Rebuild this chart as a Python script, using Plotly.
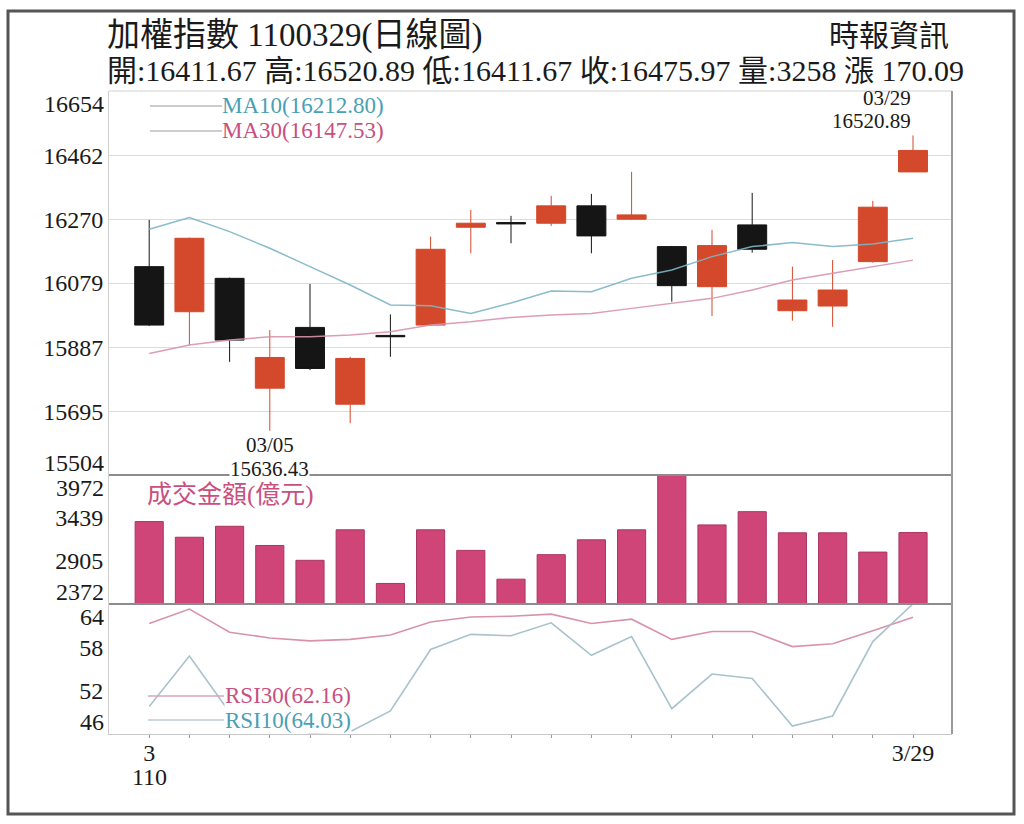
import plotly.graph_objects as go

# 加權指數 daily data, March 2021 (民國110年)
dates = ['03/02', '03/03', '03/04', '03/05', '03/08', '03/09', '03/10', '03/11', '03/12', '03/15',
         '03/16', '03/17', '03/18', '03/19', '03/22', '03/23', '03/24', '03/25', '03/26', '03/29']
open_ = [16128, 15993, 16093, 15764, 15946, 15716, 15922, 15953, 16246, 16260,
         16258, 16310, 16270, 16188, 16068, 16253, 15996, 16010, 16143, 16411.67]
high = [16268, 16215, 16095, 15938, 16076, 15858, 15985, 16218, 16298, 16280,
        16340, 16346, 16412, 16190, 16238, 16349, 16128, 16148, 16325, 16520.89]
low = [15950, 15893, 15843, 15636.43, 15818, 15659, 15858, 15950, 16168, 16198,
       16250, 16168, 16268, 16023, 15980, 16170, 15966, 15948, 16140, 16411.67]
close = [15953, 16213, 15908, 15856, 15823, 15853, 15918, 16180, 16258, 16256,
         16310, 16220, 16283, 16071, 16191, 16180, 16028, 16058, 16306, 16475.97]
ma10 = [16240, 16275, 16233, 16183, 16128, 16073, 16013, 16011, 15988, 16019,
        16055, 16053, 16093, 16118, 16158, 16188, 16200, 16188, 16196, 16212.80]
ma30 = [15868, 15893, 15908, 15918, 15918, 15923, 15933, 15953, 15963, 15976,
        15983, 15988, 16003, 16018, 16033, 16058, 16088, 16108, 16128, 16147.53]
volume = [3394, 3200, 3336, 3098, 2914, 3292, 2627, 3292, 3037, 2680,
          2984, 3168, 3292, 3972, 3353, 3517, 3255, 3255, 3016, 3258]
rsi30 = [61.3, 63.3, 60.1, 59.3, 58.9, 59.1, 59.7, 61.5, 62.2, 62.3,
         62.6, 61.3, 61.9, 59.1, 60.2, 60.2, 58.1, 58.5, 60.3, 62.16]
rsi10 = [49.8, 56.8, 49.0, 47.6, 46.1, 46.3, 49.2, 57.7, 59.8, 59.6,
         61.4, 56.9, 59.5, 49.5, 54.3, 53.7, 47.1, 48.5, 58.8, 64.03]

price_ticks = [16654, 16462, 16270, 16079, 15887, 15695, 15504]
vol_ticks = [3972, 3439, 2905, 2372]
rsi_ticks = [64, 58, 52, 46]
year_label = '110'

FONT = "'Liberation Serif', 'Noto Sans CJK TC', serif"
RED = '#d4492b'
BLACK = '#151515'
MA10_C = '#7db6c6'
MA30_C = '#d993b0'
TEAL_TXT = '#4a9fb5'
PINK_TXT = '#c94f7e'
VOL_C = '#cf4577'

# plot area in pixels
L, R, T, B = 109, 952, 91, 734
W, H = R - L, B - T


def px(x):
    return (x - L) / W


def py(y):
    return (B - y) / H


fig = go.Figure()

fig.add_trace(go.Candlestick(
    x=dates, open=open_, high=high, low=low, close=close,
    increasing=dict(line=dict(color=RED, width=1), fillcolor=RED),
    decreasing=dict(line=dict(color=BLACK, width=1), fillcolor=BLACK),
    whiskerwidth=0, yaxis='y', name='K'))
fig.add_trace(go.Scatter(x=dates, y=ma10, mode='lines', line=dict(color=MA10_C, width=1.5),
                         opacity=0.9, yaxis='y', name='MA10'))
fig.add_trace(go.Scatter(x=dates, y=ma30, mode='lines', line=dict(color=MA30_C, width=1.5),
                         opacity=0.9, yaxis='y', name='MA30'))

fig.add_trace(go.Bar(x=dates, y=volume, width=0.7, yaxis='y2', name='成交金額',
                     marker=dict(color=VOL_C, line=dict(color='#a93560', width=1))))

fig.add_trace(go.Scatter(x=dates, y=rsi30, mode='lines', line=dict(color='#d893ab', width=1.6),
                         yaxis='y3', name='RSI30'))
fig.add_trace(go.Scatter(x=dates, y=rsi10, mode='lines', line=dict(color='#a8c3cb', width=1.6),
                         yaxis='y3', name='RSI10'))

d_rsi = [0, py(604)]
d_vol = [py(604), py(475)]
d_price = [py(475), 1]

tick_font = dict(family=FONT, size=24, color='#1a1a1a')
fig.update_layout(
    width=1024, height=824,
    margin=dict(l=L, r=1024 - R, t=T, b=824 - B),
    paper_bgcolor='white', plot_bgcolor='white',
    showlegend=False,
    boxgap=0.28, boxgroupgap=0,
    font=dict(family=FONT, color='#1a1a1a'),
    xaxis=dict(type='category', range=[-1.0, 19.97], anchor='y3', rangeslider=dict(visible=False),
               showgrid=False, showline=True, linecolor='#c8c8c8', linewidth=1,
               ticks='outside', ticklen=3, tickcolor='#999999', ticklabelstandoff=-6,
               tickvals=dates, ticktext=['3'] + [''] * 18 + ['3/29'],
               tickfont=tick_font, tickangle=0),
    yaxis=dict(domain=d_price, range=[price_ticks[-1], price_ticks[0]], anchor='x',
               tickvals=price_ticks[1:-1], tickformat='d', showgrid=True, gridcolor='#dcdcdc',
               gridwidth=1, showline=True, linecolor='#cfcfcf', zeroline=False,
               tickfont=tick_font, ticks=''),
    yaxis2=dict(domain=d_vol, range=[vol_ticks[-1], vol_ticks[0]], anchor='x',
                tickvals=vol_ticks[1:-1], tickformat='d', showgrid=False,
                showline=True, linecolor='#cfcfcf', zeroline=False, tickfont=tick_font, ticks=''),
    yaxis3=dict(domain=d_rsi, range=[rsi_ticks[-1], rsi_ticks[0]], anchor='x',
                tickvals=rsi_ticks[1:-1], tickformat='d', showgrid=False,
                showline=True, linecolor='#cfcfcf', zeroline=False, tickfont=tick_font, ticks=''),
)

# end tick labels of each panel, pushed inside the panel like the original
for val, ax, shift in [(price_ticks[0], 'y', -13), (price_ticks[-1], 'y', 12),
                       (vol_ticks[0], 'y2', -13), (vol_ticks[-1], 'y2', 12),
                       (rsi_ticks[0], 'y3', -13), (rsi_ticks[-1], 'y3', 12)]:
    fig.add_annotation(x=0, xref='paper', xanchor='right', xshift=-3, y=val, yref=ax,
                       yshift=shift, text=str(val), showarrow=False, font=tick_font)

# year under the first month label
fig.add_annotation(x=dates[0], xref='x', y=0, yref='paper', yshift=-43, yanchor='middle',
                   text=year_label, showarrow=False, font=tick_font)

shapes = [
    dict(type='line', xref='paper', yref='paper', x0=0, x1=1, y0=1, y1=1,
         line=dict(color='#d0d0d0', width=1)),
    dict(type='line', xref='paper', yref='paper', x0=0, x1=1, y0=py(475), y1=py(475),
         line=dict(color='#8c8c8c', width=2)),
    dict(type='line', xref='paper', yref='paper', x0=0, x1=1, y0=py(604), y1=py(604),
         line=dict(color='#8c8c8c', width=2)),
    dict(type='line', xref='paper', yref='paper', x0=1, x1=1, y0=0, y1=1,
         line=dict(color='#9a9a9a', width=2)),
    # outer frame
    dict(type='rect', xref='paper', yref='paper', x0=px(8), x1=px(1014), y0=py(814), y1=py(11),
         line=dict(color='#555555', width=3)),
    # legend keys
    dict(type='line', xref='paper', yref='paper', x0=px(150), x1=px(222), y0=py(106), y1=py(106),
         line=dict(color='#bdbdbd', width=1.5)),
    dict(type='line', xref='paper', yref='paper', x0=px(150), x1=px(222), y0=py(131), y1=py(131),
         line=dict(color='#bdbdbd', width=1.5)),
    dict(type='line', xref='paper', yref='paper', x0=px(148), x1=px(224), y0=py(696), y1=py(696),
         line=dict(color='#dba4b6', width=1.5)),
    dict(type='line', xref='paper', yref='paper', x0=px(148), x1=px(224), y0=py(720), y1=py(720),
         line=dict(color='#bccdd2', width=1.5)),
]
fig.update_layout(shapes=shapes)


def note(x, y, text, size, color='#1a1a1a', xanchor='left', bg=None):
    fig.add_annotation(x=px(x), y=py(y), xref='paper', yref='paper', text=text, showarrow=False,
                       xanchor=xanchor, yanchor='middle', font=dict(family=FONT, size=size, color=color),
                       bgcolor=bg, borderpad=0)


note(106, 35, '加權指數 1100329(日線圖)', 33)
note(950, 36, '時報資訊', 30, xanchor='right')
note(106, 71, '開:16411.67 高:16520.89 低:16411.67 收:16475.97 量:3258 漲 170.09', 30)

note(221, 106, 'MA10(%.2f)' % ma10[-1], 23, TEAL_TXT)
note(221, 131, 'MA30(%.2f)' % ma30[-1], 23, PINK_TXT)
note(146, 495, '成交金額(億元)', 25, PINK_TXT)
note(224, 695, 'RSI30(%.2f)' % rsi30[-1], 23, PINK_TXT, bg='white')
note(224, 720, 'RSI10(%.2f)' % rsi10[-1], 23, TEAL_TXT, bg='white')

# high / low callouts
lo_i = low.index(min(low))
hi_i = high.index(max(high))
callout_font = dict(family=FONT, size=21, color='#1a1a1a')
for txt, shift in [(dates[lo_i], -14), ('%.2f' % low[lo_i], -38)]:
    fig.add_annotation(x=dates[lo_i], y=low[lo_i], xref='x', yref='y', yanchor='middle', yshift=shift,
                       text=txt, showarrow=False, bgcolor='white', borderpad=0, font=callout_font)
for txt, shift in [('%.2f' % high[hi_i], 14), (dates[hi_i], 37)]:
    fig.add_annotation(x=dates[hi_i], y=high[hi_i], xref='x', yref='y', yanchor='middle', yshift=shift,
                       xanchor='right', text=txt, showarrow=False, font=callout_font)

fig.write_html("out.html", config={'displayModeBar': False},
               post_script="document.body.style.margin='0';")
